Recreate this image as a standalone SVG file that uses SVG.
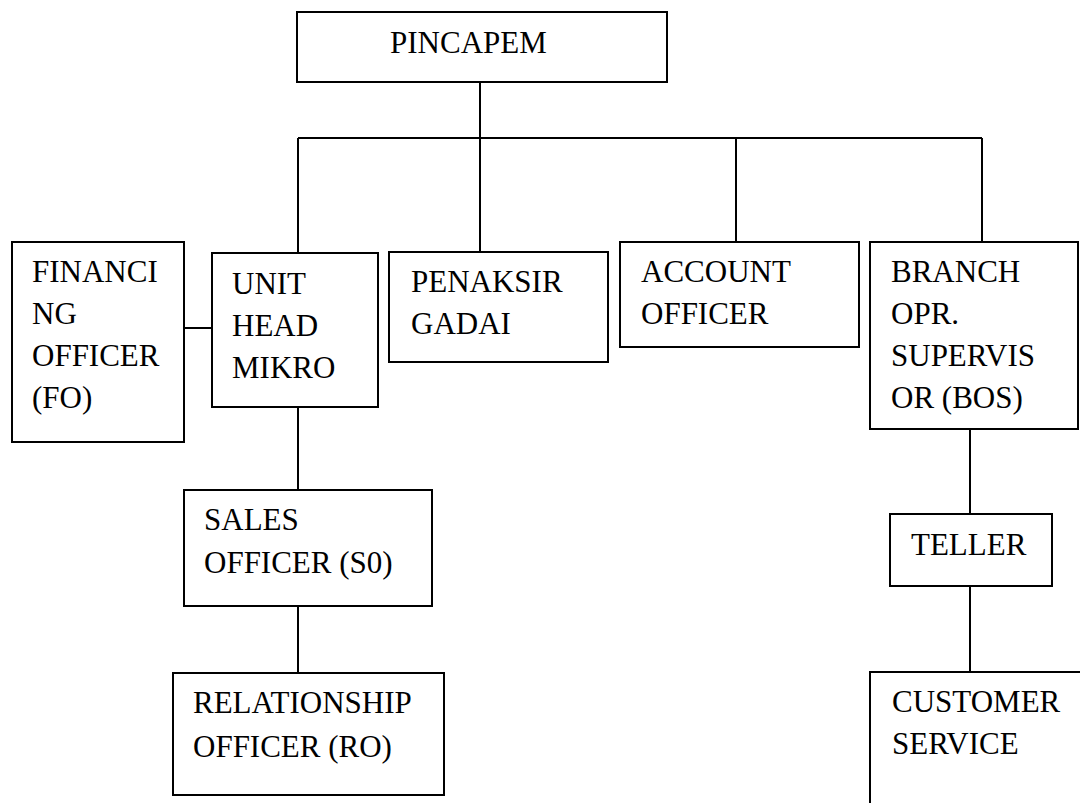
<svg xmlns="http://www.w3.org/2000/svg" width="1080" height="803" viewBox="0 0 1080 803">
<style>
.box{fill:#fff;stroke:#000;stroke-width:2}
.ln{fill:none;stroke:#000;stroke-width:2}
text{font-family:"Liberation Serif","Times New Roman",serif;font-size:31px;fill:#000}
</style>
<rect width="1080" height="803" fill="#fff"/>
<g id="connectors" class="ln">
<path d="M480 82V138M298 138H982M298 138V253M480 138V252M736 138V242M982 138V242"/>
<path d="M184 328H212M298 407V490M298 606V673"/>
<path d="M970 429V514M970 586V672"/>
</g>
<g id="pincapem"><rect class="box" x="297" y="12" width="370" height="70"/><text x="390" y="53">PINCAPEM</text></g>
<g id="fo"><rect class="box" x="12" y="242" width="172" height="200"/><text x="32" y="282">FINANCI</text><text x="32" y="324">NG</text><text x="32" y="366">OFFICER</text><text x="32" y="408">(FO)</text></g>
<g id="uhm"><rect class="box" x="212" y="253" width="166" height="154"/><text x="232" y="294">UNIT</text><text x="232" y="336">HEAD</text><text x="232" y="378">MIKRO</text></g>
<g id="penaksir"><rect class="box" x="389" y="252" width="219" height="110"/><text x="411" y="292">PENAKSIR</text><text x="411" y="334">GADAI</text></g>
<g id="ao"><rect class="box" x="620" y="242" width="239" height="105"/><text x="641" y="282">ACCOUNT</text><text x="641" y="324">OFFICER</text></g>
<g id="bos"><rect class="box" x="870" y="242" width="208" height="187"/><text x="891" y="282">BRANCH</text><text x="891" y="324">OPR.</text><text x="891" y="366">SUPERVIS</text><text x="891" y="408">OR (BOS)</text></g>
<g id="so"><rect class="box" x="184" y="490" width="248" height="116"/><text x="204" y="530">SALES</text><text x="204" y="573">OFFICER (S0)</text></g>
<g id="ro"><rect class="box" x="173" y="673" width="271" height="122"/><text x="193" y="713">RELATIONSHIP</text><text x="193" y="757">OFFICER (RO)</text></g>
<g id="teller"><rect class="box" x="890" y="514" width="162" height="72"/><text x="911" y="555">TELLER</text></g>
<g id="cs"><rect class="box" x="870" y="672" width="220" height="150"/><text x="892" y="712">CUSTOMER</text><text x="892" y="754">SERVICE</text></g>
</svg>
